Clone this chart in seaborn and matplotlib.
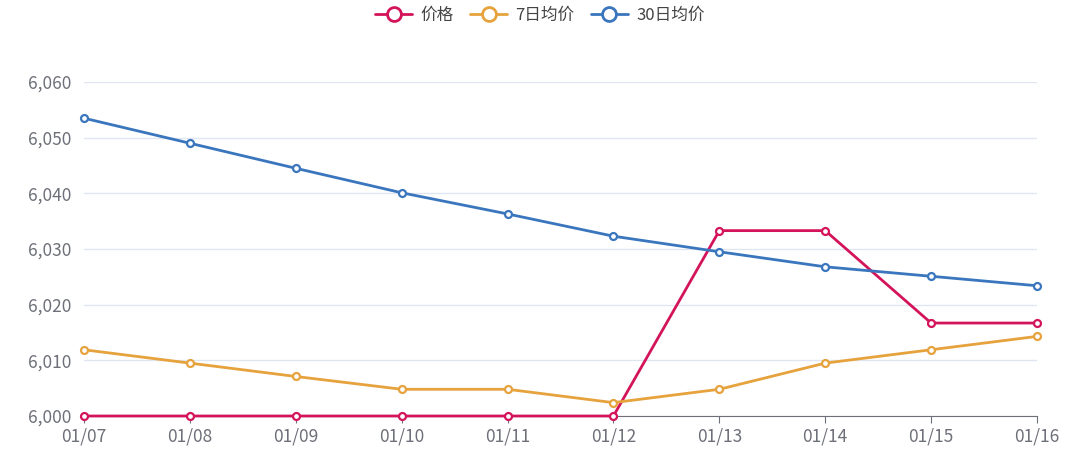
import seaborn as sns
import pandas as pd
import matplotlib.pyplot as plt

dates = ['01/07', '01/08', '01/09', '01/10', '01/11', '01/12', '01/13', '01/14', '01/15', '01/16']
price = [6000, 6000, 6000, 6000, 6000, 6000, 6033.3, 6033.3, 6016.7, 6016.7]
avg7 = [6011.9, 6009.5, 6007.1, 6004.8, 6004.8, 6002.4, 6004.8, 6009.5, 6011.9, 6014.3]
avg30 = [6053.5, 6049.0, 6044.5, 6040.1, 6036.3, 6032.3, 6029.5, 6026.8, 6025.1, 6023.4]

names = ['价格', '7日均价', '30日均价']
colors = ['#d4145a', '#e6a23c', '#3a76bd']

df = pd.DataFrame({'date': dates * 3,
                   'value': price + avg7 + avg30,
                   'series': [n for n in names for _ in dates]})
df['x'] = df['date'].map({d: i for i, d in enumerate(dates)})

sns.set_style('white')
plt.rcParams['font.family'] = ['Noto Sans CJK SC', 'DejaVu Sans']

fig = plt.figure(figsize=(10.8, 4.57), dpi=100)
ax = fig.add_axes([84 / 1080, 1 - 416 / 457, (1037 - 84) / 1080, (416 - 82) / 457])

sns.lineplot(data=df, x='x', y='value', hue='series', hue_order=names,
             palette=colors, linewidth=2, marker='o', markersize=5,
             markerfacecolor='white', markeredgewidth=1.6, ax=ax, legend=False)
for line, c in zip(ax.lines, colors):
    line.set_markeredgecolor(c)
    line.set_clip_on(False)
    line.set_zorder(3)

ax.set_xlim(0, len(dates) - 1)
ax.set_ylim(6000, 6060)
ax.set_xticks(range(len(dates)))
ax.set_xticklabels(dates)
ax.set_yticks(range(6000, 6061, 10))
ax.set_yticklabels([f'{v:,}' for v in range(6000, 6061, 10)])
ax.set_xlabel('')
ax.set_ylabel('')
ax.grid(axis='y', color='#e0e6f1', linewidth=1)
ax.set_axisbelow(True)
for s in ['top', 'right', 'left']:
    ax.spines[s].set_visible(False)
ax.spines['bottom'].set_color('#6e7079')
ax.tick_params(axis='x', colors='#6e7079', labelcolor='#6e7079', labelsize=12.5,
               length=5, direction='out', bottom=True, pad=3)
ax.tick_params(axis='y', labelcolor='#6e7079', labelsize=12.5, length=0, pad=9)

handles = [plt.Line2D([], [], color=c, linewidth=2, marker='o', markersize=10,
                      markerfacecolor='white', markeredgewidth=2) for c in colors]
fig.legend(handles, names, loc='center', bbox_to_anchor=(0.5, 1 - 15 / 457), ncol=3,
           frameon=False, fontsize=12, handlelength=2.2, handletextpad=0.5,
           columnspacing=1.0, labelcolor='#444444')

fig.savefig('out.png', dpi=100)
